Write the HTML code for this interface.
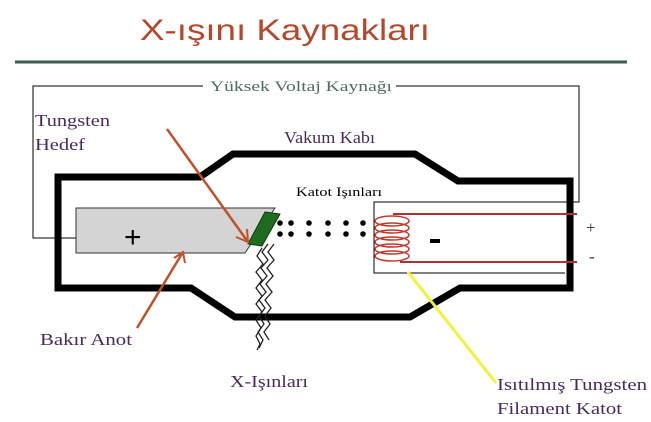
<!DOCTYPE html>
<html><head><meta charset="utf-8"><style>
html,body{margin:0;padding:0;background:#fff;}
svg{display:block;}
</style></head><body>
<svg width="651" height="422" viewBox="0 0 651 422" xmlns="http://www.w3.org/2000/svg">
<rect width="651" height="422" fill="#fff"/>
<text x="140" y="40" font-size="30" fill="#b5482a" textLength="290" lengthAdjust="spacingAndGlyphs" style="font-family:'Liberation Sans',sans-serif">X-ışını Kaynakları</text>
<line x1="15" y1="62" x2="627" y2="62" stroke="#3d5e55" stroke-width="3"/>
<polyline points="100,238 33,238 33,86 203,86" fill="none" stroke="#000" stroke-width="1"/>
<polyline points="396,86 579,86 579,202 374,202 374,273 565,273" fill="none" stroke="#000" stroke-width="1"/>
<text x="210" y="91" font-size="15" fill="#4f6b66" textLength="182" lengthAdjust="spacingAndGlyphs" style="font-family:'Liberation Serif','DejaVu Serif',serif">Yüksek Voltaj Kaynağı</text>
<polygon points="76,208 275,208 245,253 76,253" fill="#d4d4d4" stroke="#333" stroke-width="1"/>
<text x="124" y="247" font-size="30" fill="#000" style="font-family:'Liberation Sans',sans-serif">+</text>
<polygon points="265,212 280,214 262,246 248,244" fill="#1f6b1f" stroke="#0c3a0c" stroke-width="1"/>
<polygon points="58,177 200,177 233,154 415,154 458,181 570,181 570,288 460,288 410,317 235,317 191,288 58,288" fill="none" stroke="#000" stroke-width="7" stroke-linejoin="miter"/>
<g fill="none" stroke="#222" stroke-width="1.3">
<path d="M268,244 l-6,8 l6,8 l-7,8 l6,8 l-7,8 l6,8 l-7,8 l6,8 l-6,8 l5,8 l-6,8 l5,8 l-4,8"/>
<path d="M274,244 l-6,8 l6,8 l-7,8 l6,8 l-7,8 l6,8 l-7,8 l6,8 l-6,8 l5,8 l-6,8 l5,8"/>
<path d="M262,248 l-5,8 l6,8 l-7,8 l6,8 l-6,8 l6,8 l-6,8 l6,8 l-6,8 l5,8 l-5,8 l4,8 l-3,6"/>
</g>
<g fill="#000">
<circle cx="280" cy="223" r="2.8"/><circle cx="291" cy="223" r="2.8"/><circle cx="309" cy="223" r="2.8"/><circle cx="328" cy="223" r="2.8"/><circle cx="346" cy="223" r="2.8"/><circle cx="363" cy="223" r="2.8"/>
<circle cx="280" cy="234" r="2.8"/><circle cx="291" cy="234" r="2.8"/><circle cx="309" cy="234" r="2.8"/><circle cx="328" cy="234" r="2.8"/><circle cx="346" cy="234" r="2.8"/><circle cx="363" cy="234" r="2.8"/>
</g>
<g fill="none" stroke="#c0392b" stroke-width="1.5">
<line x1="393" y1="214" x2="577" y2="214" stroke="#a33" stroke-width="2"/>
<line x1="400" y1="262" x2="577" y2="262" stroke="#a33" stroke-width="2"/>
<ellipse cx="392" cy="221" rx="17" ry="5"/>
<ellipse cx="392" cy="228" rx="17" ry="5"/>
<ellipse cx="392" cy="235" rx="17" ry="5"/>
<ellipse cx="392" cy="242" rx="17" ry="5"/>
<ellipse cx="392" cy="249" rx="17" ry="5"/>
<ellipse cx="392" cy="256" rx="17" ry="5"/>
</g>
<rect x="430" y="239" width="10" height="4" fill="#000"/>
<text x="586" y="233" font-size="17" fill="#333" style="font-family:'Liberation Serif','DejaVu Serif',serif">+</text>
<text x="589" y="262" font-size="17" fill="#333" style="font-family:'Liberation Serif','DejaVu Serif',serif">-</text>
<line x1="167" y1="129" x2="248" y2="242" stroke="#c0522a" stroke-width="2.5"/>
<polyline points="236,237 248,242 247,229" fill="none" stroke="#c0522a" stroke-width="2"/>
<line x1="137" y1="328" x2="183" y2="252" stroke="#c0522a" stroke-width="2.5"/>
<polyline points="174,258 183,252 185,263" fill="none" stroke="#c0522a" stroke-width="2"/>
<line x1="408" y1="272" x2="496" y2="383" stroke="#f2f23a" stroke-width="3"/>
<g fill="#4a2a5a" font-size="17" style="font-family:'Liberation Serif','DejaVu Serif',serif">
<text x="35" y="126" textLength="75" lengthAdjust="spacingAndGlyphs">Tungsten</text>
<text x="35" y="150" textLength="50" lengthAdjust="spacingAndGlyphs">Hedef</text>
<text x="284" y="143" textLength="91" lengthAdjust="spacingAndGlyphs">Vakum Kabı</text>
<text x="40" y="345" textLength="92" lengthAdjust="spacingAndGlyphs">Bakır Anot</text>
<text x="230" y="387" textLength="78" lengthAdjust="spacingAndGlyphs">X-Işınları</text>
<text x="497" y="390" textLength="150" lengthAdjust="spacingAndGlyphs">Isıtılmış Tungsten</text>
<text x="497" y="414" textLength="125" lengthAdjust="spacingAndGlyphs">Filament Katot</text>
</g>
<text x="296" y="196" font-size="13" fill="#000" textLength="86" lengthAdjust="spacingAndGlyphs" style="font-family:'Liberation Serif','DejaVu Serif',serif">Katot Işınları</text>
</svg>
</body></html>
